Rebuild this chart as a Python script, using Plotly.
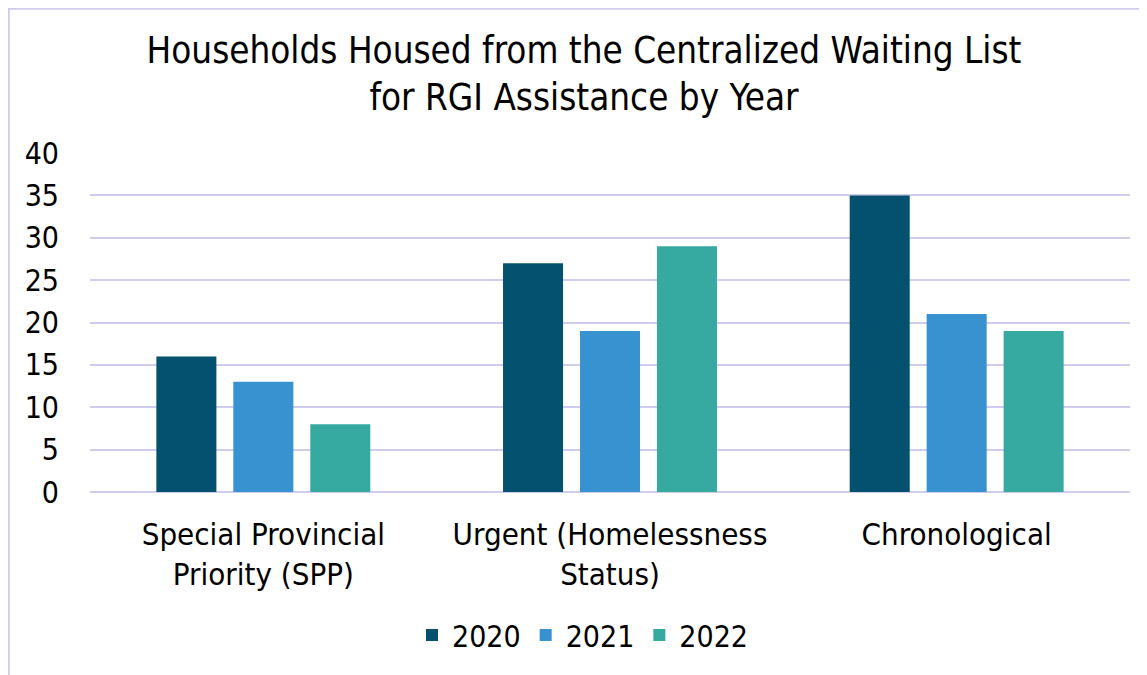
import plotly.graph_objects as go

categories = ["Special Provincial<br>Priority (SPP)", "Urgent (Homelessness<br>Status)", "Chronological"]
years = ["2020", "2021", "2022"]
values_2020 = [16, 27, 35]
values_2021 = [13, 19, 21]
values_2022 = [8, 29, 19]
colors = ["#04506F", "#3792CF", "#36AAA0"]

FONT = "DejaVu Sans Condensed, DejaVu Sans"
W, H = 1147, 675
ML, MR, MT, MB = 82, 25, 145, 191
PW, PH = W - ML - MR, H - MT - MB

fig = go.Figure()
for name, vals, col in zip(years, [values_2020, values_2021, values_2022], colors):
    fig.add_trace(go.Bar(x=categories, y=vals, name=name, marker=dict(color=col, line=dict(width=0))))

fig.update_layout(
    width=W, height=H,
    margin=dict(l=ML, r=MR, t=MT, b=MB),
    paper_bgcolor="white", plot_bgcolor="white",
    font=dict(family=FONT, color="black", size=30),
    title=dict(text="Households Housed from the Centralized Waiting List<br>for RGI Assistance by Year",
               x=576 / W, xref="container", xanchor="center", y=1 - 55 / H, yanchor="top",
               font=dict(size=36.5, family=FONT)),
    barmode="group", bargap=0.334, bargroupgap=0.22,
    showlegend=True,
    legend=dict(orientation="h", x=575 / W, xref="container", xanchor="center", y=1 - 627 / H, yref="container",
                yanchor="middle", font=dict(size=30), traceorder="normal"),
    xaxis=dict(showgrid=False, showline=False, ticks="", tickfont=dict(size=31), ticklabelstandoff=21),
    yaxis=dict(range=[0, 40], dtick=5, gridcolor="#D0CCEE", gridwidth=2, zeroline=True,
               zerolinecolor="#D0CCEE", zerolinewidth=2, showline=False, ticks="",
               tickfont=dict(size=30), ticklabelstandoff=30),
    shapes=[dict(type="rect", xref="paper", yref="paper",
                 x0=(0.8 - ML) / PW, x1=(W + 60 - ML) / PW,
                 y0=-1.0, y1=(H - MB - 0.8) / PH,
                 line=dict(color="#D0CCEE", width=2), fillcolor="rgba(0,0,0,0)", layer="below")],
)
fig.write_html("out.html")
